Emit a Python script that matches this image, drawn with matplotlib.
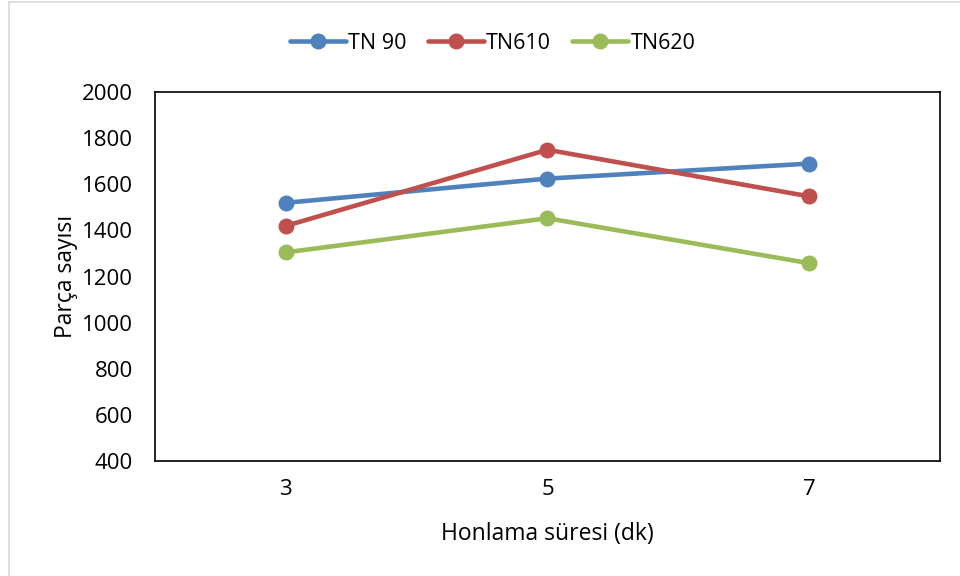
import matplotlib.pyplot as plt
from matplotlib.patches import Rectangle

plt.rcParams['font.family'] = ['Open Sans', 'DejaVu Sans']

# data
sureler = ['3', '5', '7']
tn90 = [1520, 1625, 1690]
tn610 = [1420, 1750, 1548]
tn620 = [1305, 1453, 1258]
seriler = [('TN 90', tn90, '#4F81BD'), ('TN610', tn610, '#C0504D'), ('TN620', tn620, '#9BBB59')]

fig = plt.figure(figsize=(9.6, 5.76), dpi=100)
ax = fig.add_axes([0.1615, 0.1997, 0.8175, 0.6403])

# light outer frame of the chart area
fig.patches.append(Rectangle((0.009, -0.01), 1.0, 1.006, transform=fig.transFigure,
                             fill=False, edgecolor='#d9d9d9', linewidth=1.2))

x = range(len(sureler))
for ad, deger, renk in seriler:
    ax.plot(x, deger, color=renk, linewidth=3.3, marker='o', markersize=10.5,
            solid_capstyle='round', label=ad)

ax.set_xlim(-0.5, len(sureler) - 0.5)
ax.set_ylim(400, 2000)
ax.set_yticks(range(400, 2001, 200))
ax.set_xticks(list(x))
ax.set_xticklabels(sureler)
ax.tick_params(length=0, labelsize=16)
ax.tick_params(axis='x', pad=13)
ax.tick_params(axis='y', pad=16)
for s in ax.spines.values():
    s.set_linewidth(1.2)

ax.set_xlabel('Honlama süresi (dk)', fontsize=16.5, labelpad=16)
ax.set_ylabel('Parça sayısı', fontsize=16.5, labelpad=3)

ax.legend(loc='lower center', bbox_to_anchor=(0.43, 1.052), ncol=3, frameon=False,
          fontsize=15.5, handlelength=2.6, columnspacing=1.0, handletextpad=0.1)

fig.savefig('out.png', dpi=100)
